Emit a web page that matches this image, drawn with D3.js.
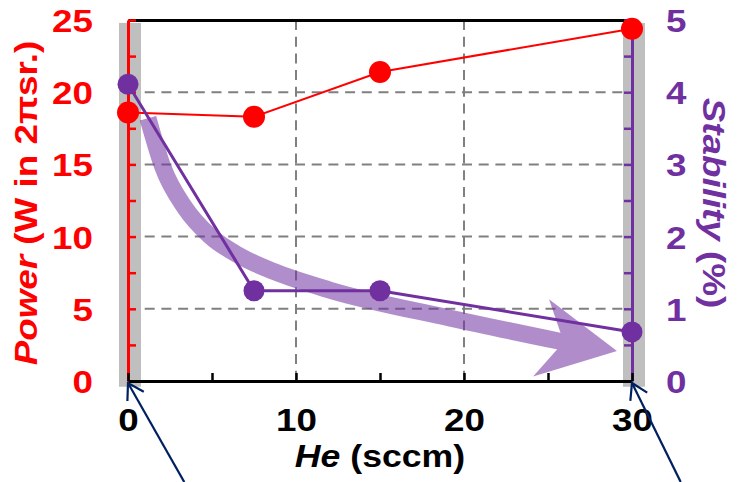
<!DOCTYPE html>
<html>
<head>
<meta charset="utf-8">
<script src="https://cdn.jsdelivr.net/npm/d3@7"></script>
<style>
  html, body { margin: 0; padding: 0; background: #fff; }
  svg { display: block; font-family: "Liberation Sans", Arial, sans-serif; font-weight: bold; }
</style>
</head>
<body>
<svg id="chart" width="750" height="482"></svg>
<script>
// data
const heFlow = [0, 7.5, 15, 30];
const power = [18.6, 18.3, 21.4, 24.4];
const stability = [4.11, 1.25, 1.25, 0.68];

const powerTicks = d3.range(0, 25.01, 2.5);
const stabTicks = d3.range(0, 5.01, 0.5);
const heTicks = d3.range(0, 30.01, 5);
const gridHe = [10, 20];
const gridPower = [5, 10, 15, 20];

// highlighted columns (gray) at the two ends
const highlightHe = [0, 30];

// hand drawn trend arrow, in data units (He, stability)
const trendHe = [1.19, 2.08, 3.39, 4.88, 6.67, 8.75, 12.0, 19.2, 25.7];
const trendStab = [3.64, 2.96, 2.40, 2.01, 1.73, 1.51, 1.26, 0.87, 0.55];

// pointer arrows below the axis: tip -> tail, in (He, power)
const pointerTip = [[0, 0], [30, 0]];
const pointerTail = [[3.35, -7], [32.9, -7]];

const RED = "#ff0000", PURPLE = "#7030a0", NAVY = "#002060";
const SX = 1.15; // the original font is wider than Arial

const svg = d3.select("#chart");
const x = d3.scaleLinear().domain([0, 30]).range([128, 632]);
const yP = d3.scaleLinear().domain([0, 25]).range([381, 20]);
const yS = d3.scaleLinear().domain([0, 5]).range([381, 20]);

// grid
const grid = svg.append("g").attr("stroke", "#808080").attr("stroke-width", 2).attr("stroke-dasharray", "10,6.7");
grid.selectAll(".gh").data(gridPower).join("line")
  .attr("x1", x(0)).attr("x2", x(30)).attr("y1", d => yP(d)).attr("y2", d => yP(d));
grid.selectAll(".gv").data(gridHe).join("line")
  .attr("x1", d => x(d)).attr("x2", d => x(d)).attr("y1", yP(25)).attr("y2", yP(0));

// gray highlight bands
svg.append("g").selectAll("rect").data(highlightHe).join("rect")
  .attr("x", d => x(d) - 9).attr("width", 22)
  .attr("y", yP(24.8)).attr("height", yP(-0.4) - yP(24.8))
  .attr("fill", "#bfbfbf");

// trend arrow
const trendPts = trendHe.map((h, i) => [x(h), yS(trendStab[i])]);
const trend = svg.append("g").attr("opacity", 0.55);
const body = trend.append("path")
  .attr("d", d3.line().curve(d3.curveMonotoneX)(trendPts))
  .attr("fill", "none").attr("stroke", PURPLE).attr("stroke-width", 17);
{
  const node = body.node();
  const L = node.getTotalLength();
  const e = node.getPointAtLength(L), p = node.getPointAtLength(L - 4);
  let ux = e.x - p.x, uy = e.y - p.y;
  const m = Math.hypot(ux, uy); ux /= m; uy /= m;
  const nx = -uy, ny = ux;
  const at = (a, b) => [e.x + ux * a + nx * b, e.y + uy * a + ny * b];
  trend.append("polygon")
    .attr("points", [at(-1, -8.5), at(-19, -39), at(58, -2), at(-19, 40), at(-1, 8.5)].join(" "))
    .attr("fill", PURPLE);
}

// top frame line
svg.append("g").attr("transform", `translate(0,${yP(25)})`)
  .call(d3.axisTop(x).tickValues([]).tickSizeOuter(0))
  .call(g => g.select(".domain").attr("stroke", "#000").attr("stroke-width", 3));

function styleAxis(g, color) {
  g.select(".domain").attr("stroke", color).attr("stroke-width", 3);
  g.selectAll(".tick line").attr("stroke", color).attr("stroke-width", 2.5);
  g.selectAll(".tick text")
    .attr("fill", color).attr("font-size", 32)
    .each(function () {
      const t = d3.select(this);
      t.attr("x", (+t.attr("x") || 0) / SX).attr("transform", `scale(${SX},1)`);
    });
  g.attr("font-family", null).attr("font-size", null);
}

// left axis: power
svg.append("g").attr("transform", `translate(${x(0)},0)`)
  .call(d3.axisLeft(yP).tickValues(powerTicks).tickSizeInner(-8).tickSizeOuter(0).tickPadding(35)
    .tickFormat(d => d % 5 === 0 ? d : ""))
  .call(g => styleAxis(g, RED))
  .call(g => g.selectAll(".tick text").attr("dy", "0.36em"));

// right axis: stability
svg.append("g").attr("transform", `translate(${x(30)},0)`)
  .call(d3.axisRight(yS).tickValues(stabTicks).tickSizeInner(-8).tickSizeOuter(0).tickPadding(34)
    .tickFormat(d => Number.isInteger(d) ? d : ""))
  .call(g => styleAxis(g, PURPLE))
  .call(g => g.selectAll(".tick text").attr("dy", "0.36em"));

// bottom axis: He
svg.append("g").attr("transform", `translate(0,${yP(0)})`)
  .call(d3.axisBottom(x).tickValues(heTicks).tickSizeInner(-8).tickSizeOuter(0).tickPadding(27)
    .tickFormat(d => d % 10 === 0 ? d : ""))
  .call(g => styleAxis(g, "#000"));

// series
svg.append("path")
  .attr("d", d3.line().x((d, i) => x(heFlow[i])).y(d => yP(d))(power))
  .attr("fill", "none").attr("stroke", RED).attr("stroke-width", 2);
svg.append("path")
  .attr("d", d3.line().x((d, i) => x(heFlow[i])).y(d => yS(d))(stability))
  .attr("fill", "none").attr("stroke", PURPLE).attr("stroke-width", 3);
svg.append("g").selectAll("circle").data(power).join("circle")
  .attr("cx", (d, i) => x(heFlow[i])).attr("cy", d => yP(d)).attr("r", 11).attr("fill", RED);
svg.append("g").selectAll("circle").data(stability).join("circle")
  .attr("cx", (d, i) => x(heFlow[i])).attr("cy", d => yS(d)).attr("r", 10.5).attr("fill", PURPLE);

// titles
function title(px, py, rot, parts, color, size) {
  const t = svg.append("text")
    .attr("transform", `translate(${px},${py}) rotate(${rot}) scale(${SX},1)`)
    .attr("text-anchor", "middle").attr("fill", color).attr("font-size", size);
  parts.forEach(([s, it]) => t.append("tspan").text(s).attr("font-style", it ? "italic" : null));
}
title(380, 467, 0, [["He", true], [" (sccm)", false]], "#000", 31);
title(37, 203, -90, [["Power", true], [" (W in 2πsr.)", false]], RED, 32);
title(703, 203, 90, [["Stability", true], [" (%)", false]], PURPLE, 32);

// pointer arrows
const ptr = svg.append("g").attr("stroke", NAVY).attr("stroke-width", 2.2).attr("fill", "none");
pointerTip.forEach((tp, i) => {
  const a = [x(tp[0]), yP(tp[1]) + 2];
  const b = [x(pointerTail[i][0]), yP(pointerTail[i][1])];
  const ang = Math.atan2(b[1] - a[1], b[0] - a[0]);
  const arm = 18, spread = 0.55;
  const h1 = [a[0] + arm * Math.cos(ang - spread), a[1] + arm * Math.sin(ang - spread)];
  const h2 = [a[0] + arm * Math.cos(ang + spread), a[1] + arm * Math.sin(ang + spread)];
  ptr.append("path").attr("d", d3.line()([b, a]));
  ptr.append("path").attr("d", d3.line()([h1, a, h2]));
});
</script>
</body>
</html>
